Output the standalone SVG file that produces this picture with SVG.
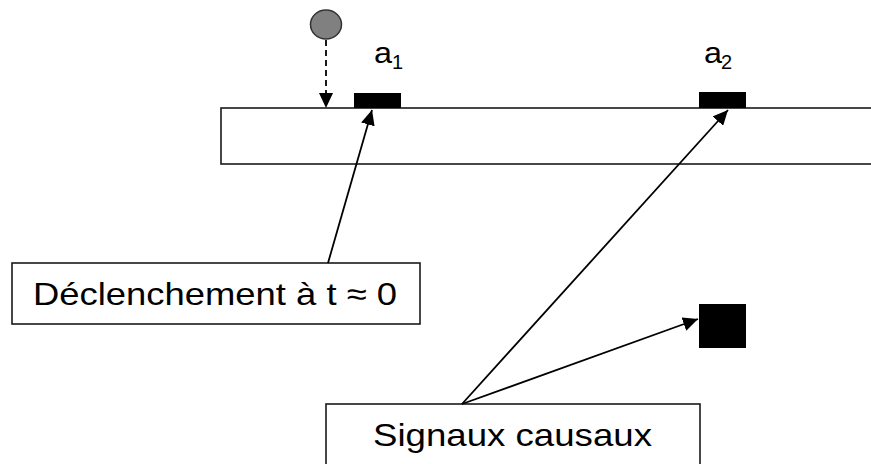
<svg xmlns="http://www.w3.org/2000/svg" width="871" height="464" viewBox="0 0 871 464">
<defs>
<style>
.box{fill:#fff;stroke:#1a1a1a;stroke-width:1.6}
.pad{fill:#000}
.lbl{font-family:"Liberation Sans",Arial,sans-serif;fill:#000}
.con{stroke:#000;stroke-width:1.8;fill:none}
</style>
<marker id="ah" viewBox="0 0 15 14" refX="15" refY="7" markerWidth="15" markerHeight="14" markerUnits="userSpaceOnUse" orient="auto">
<path d="M0,0 L15,7 L0,14 z" fill="#000"/>
</marker>
</defs>
<rect width="871" height="464" fill="#fff"/>
<g id="bar">
<rect class="box" x="221" y="108" width="660" height="56"/>
</g>
<g id="ball">
<ellipse cx="326" cy="24.5" rx="15.5" ry="14.5" fill="#808080" stroke="#333" stroke-width="1.5"/>
</g>
<g id="a1">
<rect class="pad" x="354" y="93" width="47" height="15"/>
<text class="lbl" x="374" y="63" font-size="30" textLength="18" lengthAdjust="spacingAndGlyphs">a</text>
<text class="lbl" x="392" y="69" font-size="20">1</text>
</g>
<g id="a2">
<rect class="pad" x="699" y="92" width="47" height="16"/>
<text class="lbl" x="704" y="63" font-size="30" textLength="18" lengthAdjust="spacingAndGlyphs">a</text>
<text class="lbl" x="721" y="69" font-size="20">2</text>
</g>
<g id="square">
<rect class="pad" x="699" y="304" width="47" height="44"/>
</g>
<g id="trigger">
<rect class="box" x="12" y="263" width="408" height="61"/>
<text class="lbl" x="33" y="305" font-size="32" textLength="364" lengthAdjust="spacingAndGlyphs">Déclenchement à t ≈ 0</text>
</g>
<g id="signals">
<rect class="box" x="326" y="404" width="374" height="70"/>
<text class="lbl" x="373" y="446" font-size="32" textLength="279" lengthAdjust="spacingAndGlyphs">Signaux causaux</text>
</g>
<g id="connectors">
<line class="con" x1="326" y1="40" x2="326" y2="108" stroke-dasharray="6,4" marker-end="url(#ah)"/>
<line class="con" x1="328" y1="263" x2="372" y2="110" marker-end="url(#ah)"/>
<line class="con" x1="462" y1="404" x2="728" y2="110" marker-end="url(#ah)"/>
<line class="con" x1="462" y1="404" x2="698" y2="319" marker-end="url(#ah)"/>
</g>
</svg>
